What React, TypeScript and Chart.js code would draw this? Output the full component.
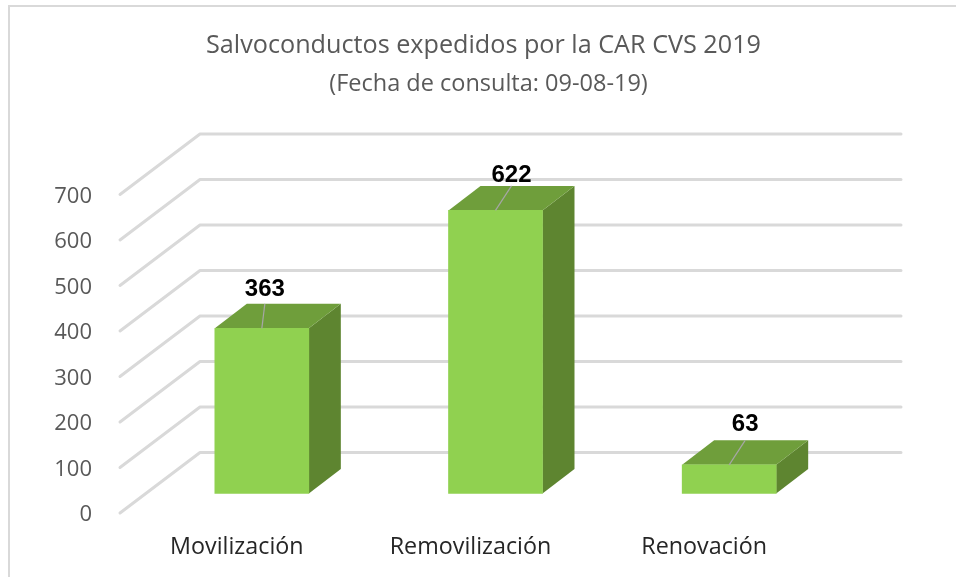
import React, { useEffect, useRef } from "react";
import { Chart, registerables } from "chart.js";

Chart.register(...registerables);

const categories = ["Movilización", "Removilización", "Renovación"];
const values = [363, 622, 63];
const yTicks = [0, 100, 200, 300, 400, 500, 600, 700];

const FONT = '"Open Sans", sans-serif';
const GRID = "#D9D9D9";
const FRONT = "#90D150";
const TOP = "#6F9E3B";
const SIDE = "#5E8530";
const WALL_DX = 80;
const WALL_DY = 60.5;
const WALL_RIGHT = 901;
const BAR_SHIFT_X = 25;
const BAR_SHIFT_Y = 19.5;
const DEPTH_X = 32;
const DEPTH_Y = 24.5;
const labelShift = [3, 16, 16];
const labelLift = [14, 11, 16];

const scene = {
  id: "scene",
  afterLayout(chart: any) {
    for (const b of chart.boxes) {
      if (b.options && b.options.text) {
        const shift = String(b.options.text).startsWith("(") ? 78 : 73;
        b.left += shift;
        b.right += shift;
      }
    }
    const yScale = chart.scales.y;
    const drawLabels = Object.getPrototypeOf(yScale).drawLabels;
    yScale.drawLabels = function (area: any) {
      this.ctx.save();
      this.ctx.translate(0, 2);
      drawLabels.call(this, area);
      this.ctx.restore();
    };
  },
  beforeDatasetsDraw(chart: any) {
    const { ctx, scales } = chart;
    const left = chart.chartArea.left;
    ctx.save();
    ctx.strokeStyle = GRID;
    ctx.lineWidth = 2;
    ctx.beginPath();
    ctx.moveTo(9, 577);
    ctx.lineTo(9, 6);
    ctx.lineTo(956, 6);
    ctx.stroke();
    ctx.lineWidth = 3;
    ctx.lineCap = "round";
    ctx.lineJoin = "round";
    for (const t of yTicks) {
      const y = scales.y.getPixelForValue(t);
      ctx.beginPath();
      ctx.moveTo(left, y);
      ctx.lineTo(left + WALL_DX, y - WALL_DY);
      ctx.lineTo(WALL_RIGHT, y - WALL_DY);
      ctx.stroke();
    }
    const meta = chart.getDatasetMeta(0);
    for (const bar of meta.data) {
      const x0 = bar.x - bar.width / 2 + BAR_SHIFT_X;
      const x1 = bar.x + bar.width / 2 + BAR_SHIFT_X;
      const yT = bar.y - BAR_SHIFT_Y;
      const yB = bar.base - BAR_SHIFT_Y;
      ctx.fillStyle = SIDE;
      ctx.beginPath();
      ctx.moveTo(x1, yT);
      ctx.lineTo(x1 + DEPTH_X, yT - DEPTH_Y);
      ctx.lineTo(x1 + DEPTH_X, yB - DEPTH_Y);
      ctx.lineTo(x1, yB);
      ctx.closePath();
      ctx.fill();
      ctx.fillStyle = TOP;
      ctx.beginPath();
      ctx.moveTo(x0, yT);
      ctx.lineTo(x0 + DEPTH_X, yT - DEPTH_Y);
      ctx.lineTo(x1 + DEPTH_X, yT - DEPTH_Y);
      ctx.lineTo(x1, yT);
      ctx.closePath();
      ctx.fill();
    }
    ctx.restore();
  },
  beforeDatasetDraw(chart: any) {
    chart.ctx.save();
    chart.ctx.translate(BAR_SHIFT_X, -BAR_SHIFT_Y);
  },
  afterDatasetDraw(chart: any) {
    chart.ctx.restore();
  },
  afterDatasetsDraw(chart: any) {
    const { ctx } = chart;
    const meta = chart.getDatasetMeta(0);
    ctx.save();
    meta.data.forEach((bar: any, i: number) => {
      const fx = bar.x + BAR_SHIFT_X;
      const fy = bar.y - BAR_SHIFT_Y;
      const tx = fx + labelShift[i];
      ctx.strokeStyle = "#A6A6A6";
      ctx.lineWidth = 1.2;
      ctx.beginPath();
      ctx.moveTo(fx, fy);
      ctx.lineTo(tx, fy - DEPTH_Y);
      ctx.stroke();
      ctx.fillStyle = "#000000";
      ctx.font = 'bold 24px "Liberation Sans", sans-serif';
      ctx.textAlign = "center";
      ctx.textBaseline = "middle";
      ctx.fillText(String(values[i]), tx, fy - DEPTH_Y - labelLift[i]);
    });
    ctx.restore();
  },
};

export default function App() {
  const ref = useRef<HTMLCanvasElement>(null);
  useEffect(() => {
    const chart = new Chart(ref.current as HTMLCanvasElement, {
      type: "bar",
      data: {
        labels: categories,
        datasets: [
          {
            data: values,
            backgroundColor: FRONT,
            borderWidth: 0,
            barThickness: 94,
            clip: false,
          } as any,
        ],
      },
      options: {
        responsive: false,
        animation: false,
        layout: { padding: { left: 0, right: 135, top: 0, bottom: 18 } },
        plugins: {
          legend: { display: false },
          tooltip: { enabled: false },
          title: {
            display: true,
            text: "Salvoconductos expedidos por la CAR CVS 2019",
            color: "#595959",
            font: { family: FONT, size: 25.2, weight: "normal" },
            padding: { top: 31, bottom: 9 },
          },
          subtitle: {
            display: true,
            text: "(Fecha de consulta: 09-08-19)",
            color: "#595959",
            font: { family: FONT, size: 23.5, weight: "normal" },
            padding: { top: 0, bottom: 96 },
          },
        },
        scales: {
          x: {
            grid: { display: false },
            border: { display: false },
            ticks: {
              color: "#262626",
              font: { family: FONT, size: 23.3 },
              padding: 12,
              maxRotation: 0,
            },
            afterFit(s: any) {
              s.height = 46;
            },
          },
          y: {
            min: 0,
            max: 700,
            grid: { display: false },
            border: { display: false },
            ticks: {
              stepSize: 100,
              color: "#595959",
              font: { family: FONT, size: 22 },
              padding: 20,
            },
            afterFit(s: any) {
              s.width = 120;
            },
          },
        },
      },
      plugins: [scene],
    } as any);
    return () => chart.destroy();
  }, []);
  return (
    <div style={{ position: "absolute", left: 0, top: 0, width: 956, height: 577, background: "#fff" }}>
      <canvas ref={ref} width={956} height={577} style={{ display: "block" }} />
    </div>
  );
}
